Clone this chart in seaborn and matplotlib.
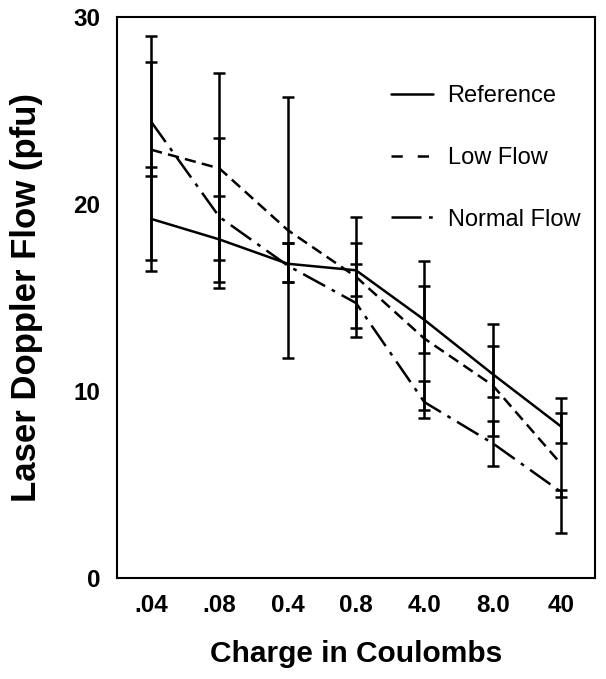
import pandas as pd
import matplotlib
matplotlib.use("Agg")
import matplotlib.pyplot as plt
import seaborn as sns
from matplotlib.lines import Line2D

# Data
charges = [".04", ".08", "0.4", "0.8", "4.0", "8.0", "40"]

ref_flow = [19.2, 18.1, 16.8, 16.45, 13.8, 10.9, 8.1]
ref_lo = [16.4, 15.8, 15.8, 15.1, 12.0, 9.65, 7.2]
ref_hi = [22.0, 20.4, 17.9, 17.9, 15.6, 12.4, 8.8]

low_flow = [22.9, 21.9, 18.6, 16.1, 12.8, 10.3, 6.1]
low_lo = [17.0, 17.0, 11.75, 13.35, 8.54, 7.6, 2.4]
low_hi = [29.0, 27.0, 25.7, 19.3, 16.95, 13.56, 9.6]

norm_flow = [24.4, 19.3, 16.7, 14.7, 9.4, 7.2, 4.6]
norm_lo = [21.5, 15.5, 15.8, 12.9, 8.97, 6.0, 4.3]
norm_hi = [27.6, 23.5, 17.9, 16.8, 10.55, 8.4, 4.7]

groups = ["Reference", "Low Flow", "Normal Flow"]

# Long-form table for seaborn
df = pd.concat([
    pd.DataFrame({"charge": charges, "flow": ref_flow, "lo": ref_lo, "hi": ref_hi, "group": "Reference"}),
    pd.DataFrame({"charge": charges, "flow": low_flow, "lo": low_lo, "hi": low_hi, "group": "Low Flow"}),
    pd.DataFrame({"charge": charges, "flow": norm_flow, "lo": norm_lo, "hi": norm_hi, "group": "Normal Flow"}),
], ignore_index=True)

sns.set_style("white")
plt.rcParams["font.family"] = ["Liberation Sans", "DejaVu Sans"]
plt.rcParams["text.color"] = "black"
plt.rcParams["axes.labelcolor"] = "black"
plt.rcParams["xtick.color"] = "black"
plt.rcParams["ytick.color"] = "black"

lw = 1.8
dash_map = {"Reference": "", "Low Flow": (4.5, 2.5), "Normal Flow": (10, 3, 1.5, 3)}

fig = plt.figure(figsize=(6.06, 6.79), dpi=100)
ax = fig.add_axes([0.193, 0.149, 0.789, 0.826])

sns.lineplot(data=df, x="charge", y="flow", style="group", dashes=dash_map,
             color="black", linewidth=lw, sort=False, legend=False, ax=ax)

# error bars, all on the same x position
for g in groups:
    sub = df[df["group"] == g]
    ax.errorbar(sub["charge"], sub["flow"],
                yerr=[sub["flow"] - sub["lo"], sub["hi"] - sub["flow"]],
                fmt="none", ecolor="black", elinewidth=lw, capsize=4, capthick=lw)

ax.set_xlim(-0.5, 6.5)
ax.set_ylim(0, 30)
ax.set_yticks([0, 10, 20, 30])

for s in ax.spines.values():
    s.set_linewidth(1.5)
    s.set_color("black")

ax.tick_params(axis="y", direction="in", length=6, width=1.2, pad=12, labelsize=17.5)
ax.tick_params(axis="x", direction="in", length=4, width=1.2, pad=12, labelsize=17.5)
for lab in ax.get_xticklabels() + ax.get_yticklabels():
    lab.set_fontweight("bold")

ax.set_xlabel("Charge in Coulombs", fontsize=21.5, fontweight="bold")
ax.set_ylabel("Laser Doppler Flow (pfu)", fontsize=25, fontweight="bold")
ax.xaxis.set_label_coords(0.5, -0.11)
ax.yaxis.set_label_coords(-0.155, 0.5)

handles = [
    Line2D([], [], color="black", lw=lw, linestyle="-"),
    Line2D([], [], color="black", lw=lw, linestyle=(0, (4.5, 6))),
    Line2D([], [], color="black", lw=lw, linestyle=(0, (12, 3, 1.5, 3))),
]
ax.legend(handles, groups, loc="upper left", bbox_to_anchor=(0.573, 0.878),
          frameon=False, fontsize=17, handlelength=1.8, handletextpad=0.6,
          labelspacing=1.68, borderpad=0, borderaxespad=0)

fig.savefig("out.png", dpi=100)
